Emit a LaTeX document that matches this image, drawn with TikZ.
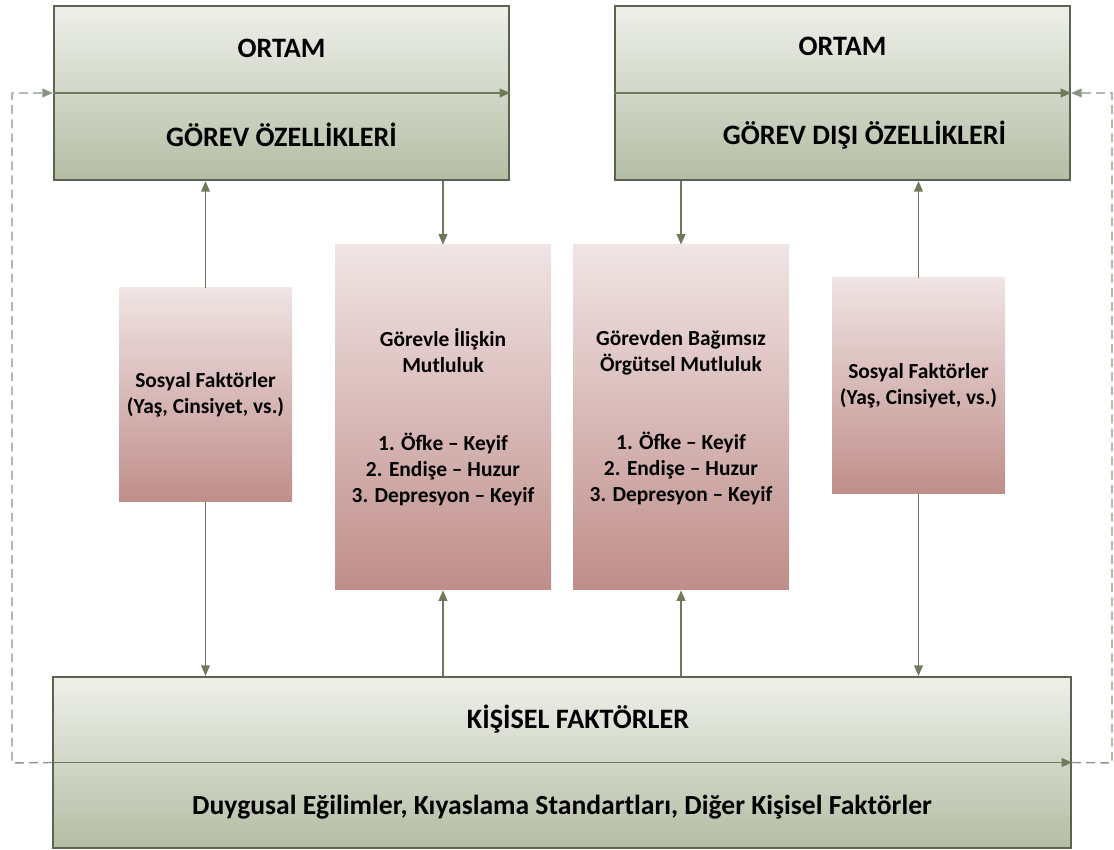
\documentclass[tikz,border=0pt]{standalone}
\usepackage{fontspec}
\setmainfont{Carlito}
\usepackage{tikz}
\usetikzlibrary{arrows.meta,positioning}

\definecolor{boxtop}{RGB}{238,240,234}
\definecolor{boxbottom}{RGB}{180,189,164}
\definecolor{boxedge}{RGB}{92,100,80}
\definecolor{pinktop}{RGB}{240,228,228}
\definecolor{pinkbottom}{RGB}{191,142,138}
\definecolor{linecol}{RGB}{110,122,90}
\definecolor{dashcol}{RGB}{140,148,132}

\begin{document}
\begin{tikzpicture}[
        box/.style={draw=boxedge, line width=1.3pt, top color=boxtop, bottom color=boxbottom,
            minimum width=9.1cm, minimum height=3.48cm, align=center,
            font=\fontsize{16}{18}\selectfont\bfseries},
        pinkbox/.style={top color=pinktop, bottom color=pinkbottom, align=center,
            inner sep=0pt, font=\fontsize{12.2}{14.8}\selectfont\bfseries},
        conn/.style={draw=linecol, line width=0.8pt, -{Triangle[length=6pt,width=5pt]}},
        feedback/.style={conn, draw=dashcol, dash pattern=on 5pt off 3pt}]
        \useasboundingbox (0,0) rectangle (22.28,17);

        % ortam
        \node[box] (o1) at (5.63,15.14) {ORTAM\\[33pt]GÖREV ÖZELLİKLERİ};
        \node[box] (o2) at (16.85,15.14) {ORTAM\\[33pt]\hspace*{0.88cm}GÖREV DIŞI ÖZELLİKLERİ};
        \node[box, minimum width=20.36cm, minimum height=3.42cm] (k) at (11.24,1.75)
            {\hspace*{0.64cm}KİŞİSEL FAKTÖRLER\\[31pt]\fontsize{15.7}{18}\selectfont Duygusal Eğilimler, Kıyaslama Standartları, Diğer Kişisel Faktörler};

        % mutluluk
        \node[pinkbox, minimum width=3.46cm, minimum height=4.28cm] (s1) at (4.11,9.1)
            {Sosyal Faktörler\\(Yaş, Cinsiyet, vs.)};
        \node[pinkbox, minimum width=4.32cm, minimum height=6.9cm] (m1) at (8.86,8.65)
            {Görevle İlişkin\\Mutluluk\\[29.6pt]1. Öfke – Keyif\\2. Endişe – Huzur\\3. Depresyon – Keyif};
        \node[pinkbox, minimum width=4.32cm, minimum height=6.9cm] (m2) at (13.62,8.65)
            {Görevden Bağımsız\\Örgütsel Mutluluk\\[29.6pt]1. Öfke – Keyif\\2. Endişe – Huzur\\3. Depresyon – Keyif};
        \node[pinkbox, minimum width=3.46cm, minimum height=4.32cm] (s2) at (18.37,9.28)
            {Sosyal Faktörler\\(Yaş, Cinsiyet, vs.)};

        \coordinate (dl) at (0.24,1.74);
        \coordinate (dr) at (22.24,1.74);

        \draw[conn] (o1.west) -- (o1.east);
        \draw[conn] (o2.west) -- (o2.east);
        \draw[conn] (k.west) -- (k.east);

        \draw[conn] (s1.north) -- (o1.south -| s1.north);
        \draw[conn] (s1.south) -- (k.north -| s1.south);
        \draw[conn] (o1.south -| m1.north) -- (m1.north);
        \draw[conn] (k.north -| m1.south) -- (m1.south);
        \draw[conn] (o2.south -| m2.north) -- (m2.north);
        \draw[conn] (k.north -| m2.south) -- (m2.south);
        \draw[conn] (s2.north) -- (o2.south -| s2.north);
        \draw[conn] (s2.south) -- (k.north -| s2.south);

        \draw[feedback] (k.west) -- (dl) |- (o1.west);
        \draw[feedback] (k.east) -- (dr) |- (o2.east);
    \end{tikzpicture}
\end{document}
